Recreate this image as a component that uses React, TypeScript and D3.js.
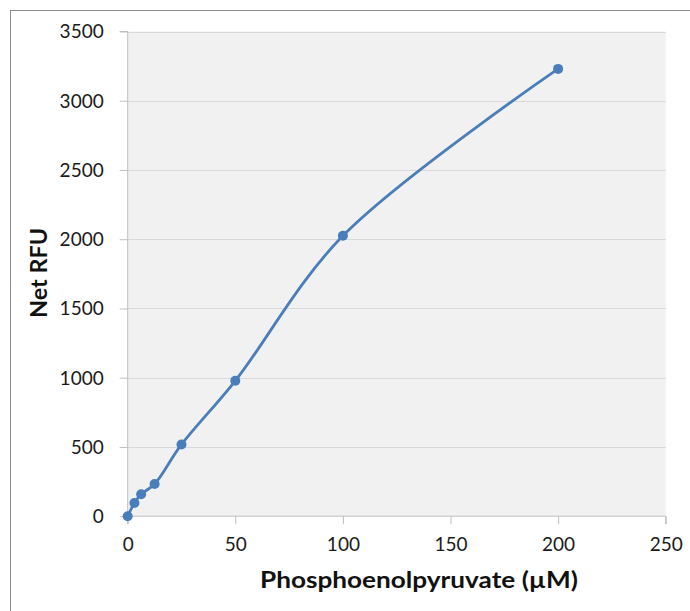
import { useEffect, useRef } from 'react';
import * as d3 from 'd3';

const concentrations = [0, 3.125, 6.25, 12.5, 25, 50, 100, 200];
const netRfu = [0, 95, 158, 232, 518, 978, 2025, 3230];
const xTicks = [0, 50, 100, 150, 200, 250];
const yTicks = [0, 500, 1000, 1500, 2000, 2500, 3000, 3500];

const W = 690;
const H = 611;
const FONT = 'Lato, "Open Sans", "Liberation Sans", sans-serif';

export default function App() {
  const svgRef = useRef<SVGSVGElement>(null);

  useEffect(() => {
    if (!svgRef.current) return;
    const svg = d3.select(svgRef.current);
    svg.selectAll('*').remove();

    const left = 127.7, right = 665.7, top = 31.5, bottom = 516.2;

    const x = d3.scaleLinear().domain([0, 250]).range([left, right]);
    const y = d3.scaleLinear().domain([0, 3500]).range([bottom, top]);

    // outer frame (only left/top visible in the crop)
    svg.append('rect')
      .attr('x', 10.5).attr('y', 10.5)
      .attr('width', W + 20).attr('height', H + 20)
      .attr('fill', '#fff').attr('stroke', '#8c8c8c');

    // plot background
    svg.append('rect')
      .attr('x', left).attr('y', top)
      .attr('width', right - left).attr('height', bottom - top)
      .attr('fill', '#f1f1f1');

    // horizontal gridlines
    svg.append('g')
      .selectAll('line')
      .data(yTicks.filter(d => d > 0))
      .enter()
      .append('line')
      .attr('x1', left).attr('x2', right)
      .attr('y1', d => Math.round(y(d)) + 0.5)
      .attr('y2', d => Math.round(y(d)) + 0.5)
      .attr('stroke', '#d9d9d9')
      .attr('stroke-width', 1);

    // y axis
    const yAxis = d3.axisLeft(y).tickValues(yTicks).tickSize(8).tickPadding(16)
      .tickFormat(d => String(d));
    const gy = svg.append('g')
      .attr('transform', `translate(${left},0)`)
      .call(yAxis);
    gy.select('.domain').attr('stroke', '#bfbfbf').attr('d', `M-8,${top}H0V${bottom}`);
    gy.selectAll('.tick line').attr('stroke', '#bfbfbf');
    gy.selectAll('.tick text')
      .attr('font-family', FONT).attr('font-size', 19).attr('fill', '#1a1a1a')
      .attr('dy', '0.34em');

    // x axis
    const xAxis = d3.axisBottom(x).tickValues(xTicks).tickSize(8).tickPadding(13)
      .tickFormat(d => String(d));
    const gx = svg.append('g')
      .attr('transform', `translate(0,${bottom})`)
      .call(xAxis);
    gx.select('.domain').attr('stroke', '#bfbfbf').attr('d', `M${left},8V0H${right}V8`);
    gx.selectAll('.tick line').attr('stroke', '#bfbfbf');
    gx.selectAll('.tick text')
      .attr('font-family', FONT).attr('font-size', 19).attr('fill', '#1a1a1a');

    const pts: [number, number][] = concentrations.map((c, i) => [c, netRfu[i]]);

    const line = d3.line<[number, number]>()
      .x(d => x(d[0]))
      .y(d => y(d[1]))
      .curve(d3.curveCatmullRom.alpha(0.5));

    svg.append('path')
      .datum(pts)
      .attr('d', line)
      .attr('fill', 'none')
      .attr('stroke', '#4a7ebb')
      .attr('stroke-width', 2.8);

    svg.append('g')
      .selectAll('circle')
      .data(pts)
      .enter()
      .append('circle')
      .attr('cx', d => x(d[0]))
      .attr('cy', d => y(d[1]))
      .attr('r', 5)
      .attr('fill', '#4a7ebb');

    // axis titles
    svg.append('text')
      .attr('x', 419)
      .attr('y', 588)
      .attr('text-anchor', 'middle')
      .attr('font-family', FONT)
      .attr('font-weight', 'bold')
      .attr('font-size', 22)
      .attr('textLength', 318)
      .attr('lengthAdjust', 'spacingAndGlyphs')
      .attr('fill', '#111')
      .text('Phosphoenolpyruvate (µM)');

    svg.append('text')
      .attr('transform', `translate(47,273) rotate(-90)`)
      .attr('text-anchor', 'middle')
      .attr('font-family', FONT)
      .attr('font-weight', 'bold')
      .attr('font-size', 22)
      .attr('textLength', 90)
      .attr('lengthAdjust', 'spacingAndGlyphs')
      .attr('fill', '#111')
      .text('Net RFU');
  }, []);

  return (
    <svg
      ref={svgRef}
      width={W}
      height={H}
      style={{ position: 'absolute', left: 0, top: 0, background: '#fff' }}
    />
  );
}
